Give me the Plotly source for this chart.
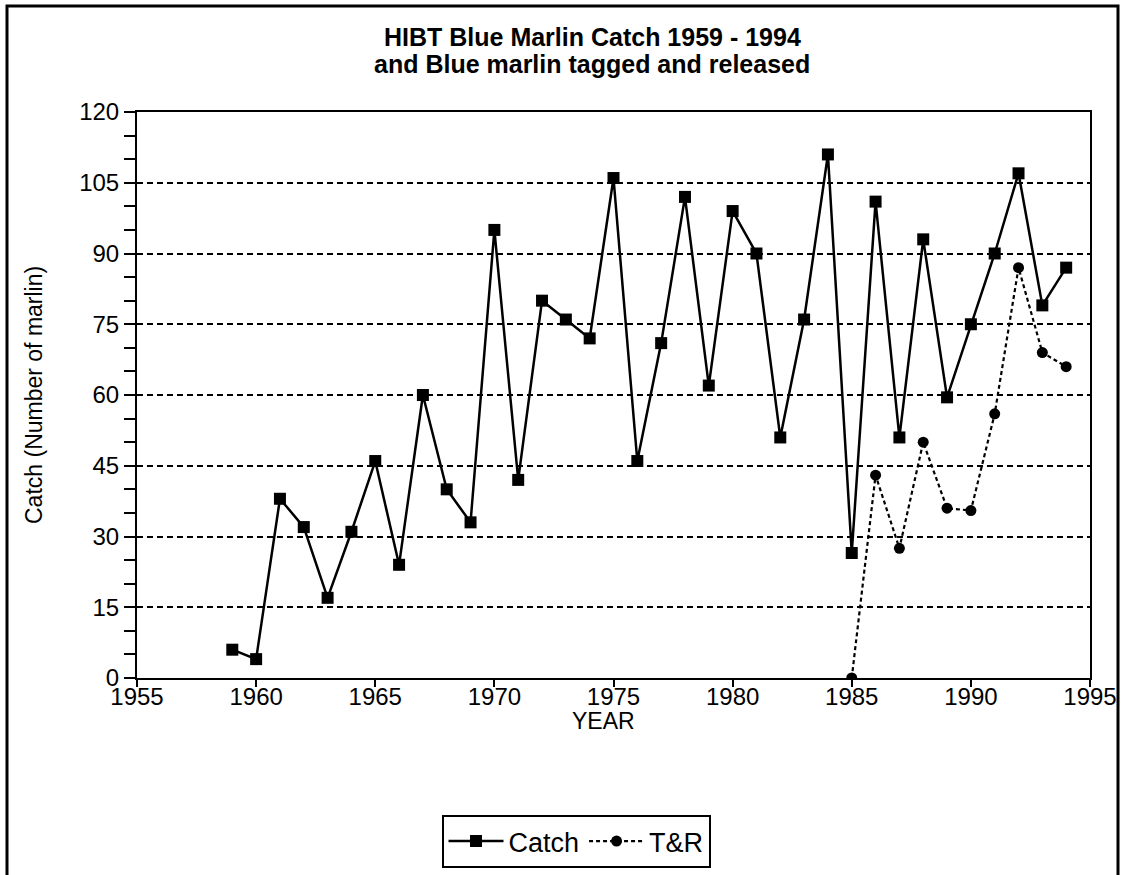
import plotly.graph_objects as go

years_catch = list(range(1959, 1995))
catch = [6, 4, 38, 32, 17, 31, 46, 24, 60, 40, 33, 95, 42, 80, 76, 72, 106, 46,
         71, 102, 62, 99, 90, 51, 76, 111, 26.5, 101, 51, 93, 59.5, 75, 90, 107, 79, 87]
years_tr = list(range(1985, 1995))
tr = [0, 43, 27.5, 50, 36, 35.5, 56, 87, 69, 66]

x_ticks = [1955, 1960, 1965, 1970, 1975, 1980, 1985, 1990, 1995]
y_ticks = [0, 15, 30, 45, 60, 75, 90, 105, 120]

FONT = "Liberation Sans, Arial, sans-serif"

fig = go.Figure()
fig.add_trace(go.Scatter(
    x=years_catch, y=catch, name="Catch", mode="lines+markers",
    line=dict(color="black", width=2.5),
    marker=dict(symbol="square", size=12, color="black"),
))
fig.add_trace(go.Scatter(
    x=years_tr, y=tr, name="T&R", mode="lines+markers",
    line=dict(color="black", width=2.2, dash="4px,3px"),
    marker=dict(symbol="circle", size=11, color="black"),
))

L, R, T, B = 137, 1090, 112, 678
W, H = 1121, 875
pw, ph = R - L, B - T

def px(xp):
    return (xp - L) / pw

def py(yp):
    return (B - yp) / ph

fig.update_layout(
    width=W, height=H, autosize=False,
    margin=dict(l=L, r=W - R, t=T, b=H - B, pad=0, autoexpand=False),
    paper_bgcolor="white", plot_bgcolor="white",
    font=dict(family=FONT, color="black", size=24),
    showlegend=True,
    legend=dict(
        orientation="h", xref="container", yref="container",
        x=576 / W, y=1 - 815 / H, xanchor="center", yanchor="top",
        bordercolor="black", borderwidth=2, bgcolor="white",
        font=dict(size=27, family=FONT, color="black"),
        itemwidth=55, tracegroupgap=0,
    ),
    xaxis=dict(
        range=[1955, 1995], tickvals=x_ticks, ticktext=[str(v) for v in x_ticks],
        showgrid=False, zeroline=False, automargin=False,
        showline=True, mirror=True, linecolor="black", linewidth=2,
        ticks="outside", ticklen=7, tickwidth=2, tickcolor="black",
        tickfont=dict(size=24), ticklabelstandoff=-11,
    ),
    yaxis=dict(
        range=[0, 120], tickvals=y_ticks, ticktext=[str(v) for v in y_ticks],
        showgrid=True, gridcolor="black", gridwidth=2, griddash="6px,4px",
        zeroline=False, automargin=False,
        showline=True, mirror=True, linecolor="black", linewidth=2,
        ticks="outside", ticklen=11, tickwidth=2, tickcolor="black",
        tickfont=dict(size=24),
        minor=dict(dtick=5, ticks="outside", ticklen=11, tickwidth=2,
                   tickcolor="black", showgrid=False),
    ),
)

# Titles
fig.add_annotation(
    text="<b>HIBT Blue Marlin Catch 1959 - 1994</b>", xref="paper", yref="paper",
    x=px(592), y=py(37), xanchor="center", yanchor="middle", showarrow=False,
    font=dict(size=25, family=FONT, color="black"),
)
fig.add_annotation(
    text="<b>and Blue marlin tagged and released</b>", xref="paper", yref="paper",
    x=px(592), y=py(64), xanchor="center", yanchor="middle", showarrow=False,
    font=dict(size=25, family=FONT, color="black"),
)
# Axis titles
fig.add_annotation(
    text="YEAR", xref="paper", yref="paper",
    x=px(603), y=py(721), xanchor="center", yanchor="middle", showarrow=False,
    font=dict(size=23, family=FONT, color="black"),
)
fig.add_annotation(
    text="Catch (Number of marlin)", xref="paper", yref="paper", textangle=-90,
    x=px(34), y=py(395), xanchor="center", yanchor="middle", showarrow=False,
    font=dict(size=23, family=FONT, color="black"),
)

fig.add_shape(
    type="rect", xref="paper", yref="paper",
    x0=px(7), x1=px(1118), y0=py(890), y1=py(6),
    line=dict(color="black", width=3), fillcolor="rgba(0,0,0,0)", layer="above",
)

fig.write_html(
    "out.html",
    config={"displayModeBar": False},
    post_script="document.body.style.margin='0';",
)
